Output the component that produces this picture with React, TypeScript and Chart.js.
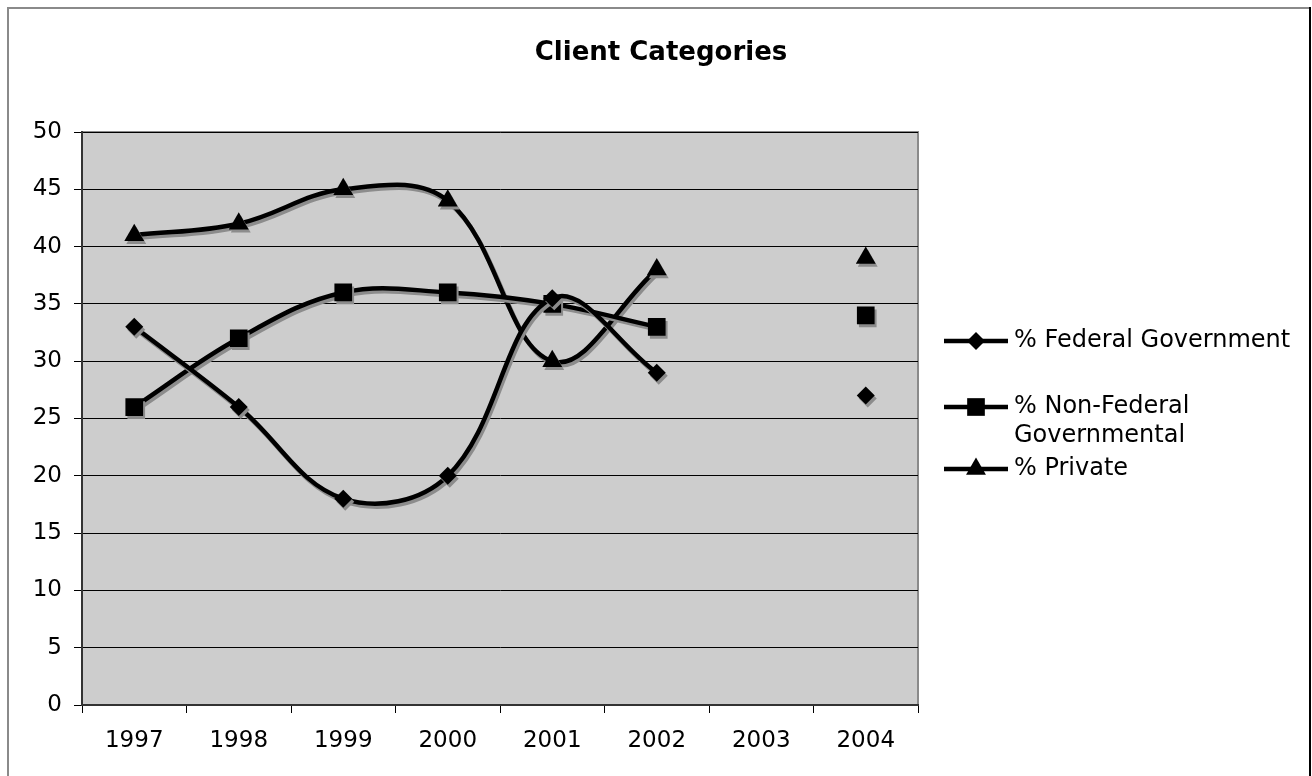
import React, { useEffect, useRef } from "react";
import { Chart, registerables } from "chart.js";

Chart.register(...registerables);

const categories = ["1997", "1998", "1999", "2000", "2001", "2002", "2003", "2004"];
const federal = [33, 26, 18, 20, 35.5, 29, null, 27];
const nonFederal = [26, 32, 36, 36, 35, 33, null, 34];
const privateSector = [41, 42, 45, 44, 30, 38, null, 39];
const seriesLabels = ["% Federal Government", "% Non-Federal Governmental", "% Private"];
const yTicks = [0, 5, 10, 15, 20, 25, 30, 35, 40, 45, 50];
const titleText = "Client Categories";

const FONT = "'DejaVu Sans', Verdana, sans-serif";

function drawMarker(ctx: CanvasRenderingContext2D, style: string, x: number, y: number, r: number) {
  ctx.beginPath();
  if (style === "rectRot") {
    ctx.moveTo(x, y - r);
    ctx.lineTo(x + r, y);
    ctx.lineTo(x, y + r);
    ctx.lineTo(x - r, y);
  } else if (style === "rect") {
    const s = r * Math.SQRT1_2;
    ctx.rect(x - s, y - s, 2 * s, 2 * s);
  } else {
    const h = r * 0.866;
    ctx.moveTo(x, y - r);
    ctx.lineTo(x + h, y + r / 2);
    ctx.lineTo(x - h, y + r / 2);
  }
  ctx.closePath();
  ctx.fill();
}

const framePlugin = {
  id: "frame",
  beforeDraw(chart: any) {
    const { ctx, chartArea: a } = chart;
    ctx.save();
    ctx.fillStyle = "#ffffff";
    ctx.fillRect(0, 0, chart.width, chart.height);
    // outer border
    ctx.strokeStyle = "#8a8a8a";
    ctx.lineWidth = 2;
    ctx.beginPath();
    ctx.moveTo(8, chart.height + 5);
    ctx.lineTo(8, 8);
    ctx.lineTo(1309, 8);
    ctx.stroke();
    ctx.strokeStyle = "#000000";
    ctx.beginPath();
    ctx.moveTo(1310, 7);
    ctx.lineTo(1310, chart.height + 5);
    ctx.stroke();
    // plot area
    ctx.fillStyle = "#cdcdcd";
    ctx.fillRect(a.left, a.top, a.right - a.left, a.bottom - a.top);
    ctx.strokeStyle = "#8a8a8a";
    ctx.lineWidth = 2;
    ctx.strokeRect(a.left, a.top, a.right - a.left, a.bottom - a.top);
    // title
    ctx.fillStyle = "#000";
    ctx.font = `bold 26px ${FONT}`;
    ctx.textAlign = "center";
    ctx.textBaseline = "middle";
    ctx.fillText(titleText, 661, 53);
    ctx.restore();
  },
  beforeDatasetsDraw(chart: any) {
    const ctx = chart.ctx;
    ctx.save();
    ctx.shadowColor = "#8c8c8c";
    ctx.shadowOffsetX = 2;
    ctx.shadowOffsetY = 3;
    ctx.shadowBlur = 0;
  },
  afterDatasetsDraw(chart: any) {
    chart.ctx.restore();
  },
  afterDraw(chart: any) {
    const ctx = chart.ctx;
    ctx.save();
    ctx.font = `24px ${FONT}`;
    ctx.textAlign = "left";
    ctx.textBaseline = "middle";
    const rows = [341, 407, 469];
    chart.data.datasets.forEach((ds: any, i: number) => {
      const y = rows[i];
      ctx.strokeStyle = "#000";
      ctx.lineWidth = 4.5;
      ctx.beginPath();
      ctx.moveTo(944, y);
      ctx.lineTo(1008, y);
      ctx.stroke();
      ctx.fillStyle = "#000";
      drawMarker(ctx, ds.pointStyle, 976, y, ds.pointRadius);
      const words = String(ds.label).split(" ");
      const lines: string[] = [];
      let cur = "";
      words.forEach((w) => {
        const t = cur ? cur + " " + w : w;
        if (ctx.measureText(t).width > 285 && cur) {
          lines.push(cur);
          cur = w;
        } else cur = t;
      });
      lines.push(cur);
      lines.forEach((ln, k) => ctx.fillText(ln, 1014, y + k * 29));
    });
    ctx.restore();
  },
};

export default function App() {
  const ref = useRef<HTMLCanvasElement | null>(null);
  useEffect(() => {
    document.body.style.margin = "0";
    const canvas = ref.current!;
    const common = {
      borderColor: "#000",
      backgroundColor: "#000",
      pointBackgroundColor: "#000",
      pointBorderColor: "#000",
      pointBorderWidth: 0,
      borderWidth: 4.5,
      tension: 0.38,
      spanGaps: false,
      pointHoverRadius: 0,
    };
    const chart = new Chart(canvas, {
      type: "line",
      data: {
        labels: categories,
        datasets: [
          { ...common, label: seriesLabels[0], data: federal, pointStyle: "rectRot", pointRadius: 9 },
          { ...common, label: seriesLabels[1], data: nonFederal, pointStyle: "rect", pointRadius: 12.5 },
          { ...common, label: seriesLabels[2], data: privateSector, pointStyle: "triangle", pointRadius: 11.5 },
        ] as any,
      },
      options: {
        animation: false,
        responsive: false,
        devicePixelRatio: 1,
        events: [],
        layout: { padding: { top: 132, right: 394, left: 0, bottom: 0 } },
        plugins: { legend: { display: false }, title: { display: false }, tooltip: { enabled: false } },
        scales: {
          x: {
            type: "category",
            offset: true,
            afterFit: (s: any) => {
              s.height = 71;
            },
            grid: {
              offset: true,
              drawOnChartArea: false,
              drawTicks: true,
              tickLength: 8,
              color: "#000",
              lineWidth: 1,
            },
            border: { display: true, color: "#333", width: 2 },
            ticks: { color: "#000", font: { family: FONT, size: 23 }, padding: 14, maxRotation: 0, autoSkip: false },
          },
          y: {
            min: 0,
            max: 50,
            afterFit: (s: any) => {
              s.width = 82;
            },
            afterBuildTicks: (s: any) => {
              s.ticks = yTicks.map((v) => ({ value: v }));
            },
            grid: { color: "#000", lineWidth: 1, tickLength: 8, drawTicks: true },
            border: { display: true, color: "#333", width: 2 },
            ticks: { color: "#000", font: { family: FONT, size: 23 }, padding: 12 },
          },
        },
      },
      plugins: [framePlugin],
    });
    return () => chart.destroy();
  }, []);
  return <canvas ref={ref} width={1312} height={776} style={{ width: 1312, height: 776, display: "block" }} />;
}
